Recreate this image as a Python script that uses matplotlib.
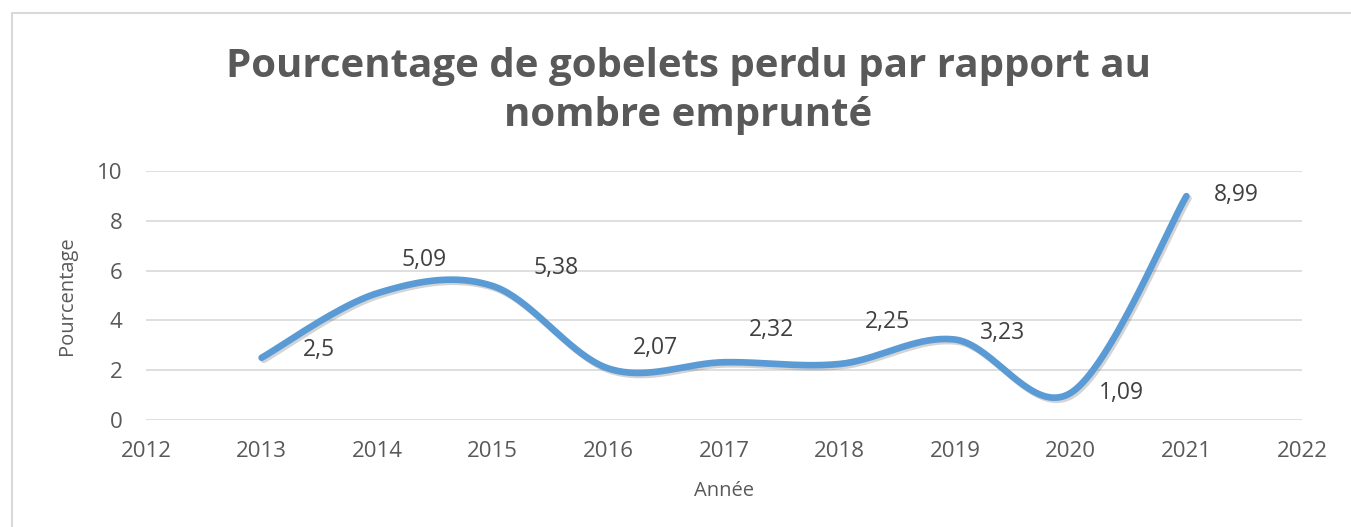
import numpy as np
import matplotlib.pyplot as plt
from matplotlib.patches import Rectangle
import matplotlib.patheffects as pe

plt.rcParams['font.family'] = ['Open Sans', 'DejaVu Sans']

# data
years = [2013, 2014, 2015, 2016, 2017, 2018, 2019, 2020, 2021]
pourcentages = [2.5, 5.09, 5.38, 2.07, 2.32, 2.25, 3.23, 1.09, 8.99]
labels = ['2,5', '5,09', '5,38', '2,07', '2,32', '2,25', '3,23', '1,09', '8,99']

# label offsets in pixels (dx, dy)
label_offsets = [(57, 8), (47, 33), (63, 18), (47, 20), (47, 32), (48, 42), (47, 7), (51, 0), (50, 1)]


def smooth_curve(xs, ys, n=40):
    # Catmull-Rom style bezier, like Excel "smoothed line"
    x = np.array(xs, dtype=float)
    y = np.array(ys, dtype=float)
    px = np.concatenate([[x[0]], x, [x[-1]]])
    py = np.concatenate([[y[0]], y, [y[-1]]])
    out_x, out_y = [], []
    t = np.linspace(0, 1, n)
    for i in range(1, len(px) - 2):
        p0 = np.array([px[i], py[i]])
        p3 = np.array([px[i + 1], py[i + 1]])
        c1 = p0 + (np.array([px[i + 1], py[i + 1]]) - np.array([px[i - 1], py[i - 1]])) / 6
        c2 = p3 - (np.array([px[i + 2], py[i + 2]]) - np.array([px[i], py[i]])) / 6
        b = ((1 - t) ** 3)[:, None] * p0 + (3 * (1 - t) ** 2 * t)[:, None] * c1 \
            + (3 * (1 - t) * t ** 2)[:, None] * c2 + (t ** 3)[:, None] * p3
        out_x.extend(b[:, 0])
        out_y.extend(b[:, 1])
    return out_x, out_y


fig = plt.figure(figsize=(13.51, 5.27), dpi=100)
fig.patches.append(Rectangle((12 / 1351, -0.1), 1.2, 1 - 13 / 527 + 0.1, transform=fig.transFigure,
                             fill=False, edgecolor='#d9d9d9', linewidth=1.5))
ax = fig.add_axes([146 / 1351, 1 - 420 / 527, (1302 - 146) / 1351, (420 - 171) / 527])

sx, sy = smooth_curve(years, pourcentages)
ax.plot(sx, sy, color='#5b9bd5', linewidth=4.8, solid_capstyle='round', zorder=3,
        path_effects=[pe.SimpleLineShadow(offset=(1.5, -1.5), alpha=0.25, shadow_color='#555555'), pe.Normal()])

for x, y, lab, (dx, dy) in zip(years, pourcentages, labels, label_offsets):
    ax.annotate(lab, (x, y), xytext=(dx, dy), textcoords='offset pixels',
                ha='center', va='center', fontsize=16.5, color='#404040')

ax.set_xlim(2012, 2022)
ax.set_ylim(0, 10)
ax.set_xticks(range(2012, 2023))
ax.set_yticks(range(0, 11, 2))
ax.grid(axis='y', color='#d9d9d9', linewidth=1.2)
ax.set_axisbelow(True)
for s in ax.spines.values():
    s.set_visible(False)
ax.tick_params(length=0, labelsize=16, labelcolor='#595959')
ax.tick_params(axis='x', pad=15)
ax.tick_params(axis='y', pad=17)
ax.set_xlabel('Année', fontsize=14.5, color='#595959', labelpad=14)
ax.set_ylabel('Pourcentage', fontsize=14.5, color='#595959', labelpad=14)

fig.text(688 / 1351, 1 - 91 / 527, 'Pourcentage de gobelets perdu par rapport au\nnombre emprunté',
         ha='center', va='center', fontsize=29, fontweight='bold', color='#595959', linespacing=1.33)

fig.savefig('out.png', dpi=100)
